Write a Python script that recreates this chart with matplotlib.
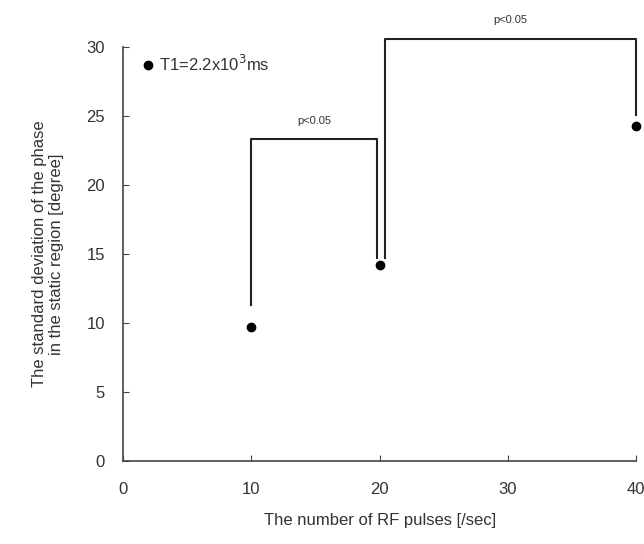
import matplotlib.pyplot as plt

plt.rcParams['font.family'] = ['Liberation Sans', 'DejaVu Sans']

pulses = [10, 20, 40]
std_phase = [9.7, 14.2, 24.3]
series_label = 'T1=2.2x10$^3$ms'

# significance brackets: (x left, x right, y left bottom, y right bottom, y top, label)
brackets = [
    (10, 19.8, 11.3, 14.7, 23.3, 'p<0.05'),
    (20.4, 40, 14.7, 25.1, 30.6, 'p<0.05'),
]

fig = plt.figure(figsize=(6.44, 5.44), dpi=100)
ax = fig.add_axes([0.191, 0.1526, 0.797, 0.761])

ax.plot(pulses, std_phase, 'o', color='black', markersize=6, label=series_label, clip_on=False)

for x1, x2, y1, y2, top, txt in brackets:
    ax.plot([x1, x1, x2, x2], [y1, top, top, y2], color='#222222', lw=1.5, clip_on=False)
    ax.text((x1 + x2) / 2, top + 1.0, txt, ha='center', va='bottom', fontsize=8, color='#333333')

ax.set_xlim(0, 40)
ax.set_ylim(0, 30)
ax.set_xticks([0, 10, 20, 30, 40])
ax.set_yticks([0, 5, 10, 15, 20, 25, 30])
ax.tick_params(direction='in', length=4, colors='#444444', labelsize=12, labelcolor='#333333')
ax.tick_params(axis='x', pad=15)
ax.tick_params(axis='y', pad=13)
for s in ['top', 'right']:
    ax.spines[s].set_visible(False)
for s in ['left', 'bottom']:
    ax.spines[s].set_color('#444444')
    ax.spines[s].set_linewidth(1.2)

ax.set_xlabel('The number of RF pulses [/sec]', fontsize=12, color='#333333', labelpad=12)
ax.set_ylabel('The standard deviation of the phase\nin the static region [degree]', fontsize=12,
              color='#333333', labelpad=16)

ax.legend(loc='upper left', bbox_to_anchor=(0.025, 1.0), frameon=False, fontsize=12,
          handlelength=0.6, handletextpad=0.4, borderaxespad=0.0, labelcolor='#333333')

plt.savefig('out.png', dpi=100)
